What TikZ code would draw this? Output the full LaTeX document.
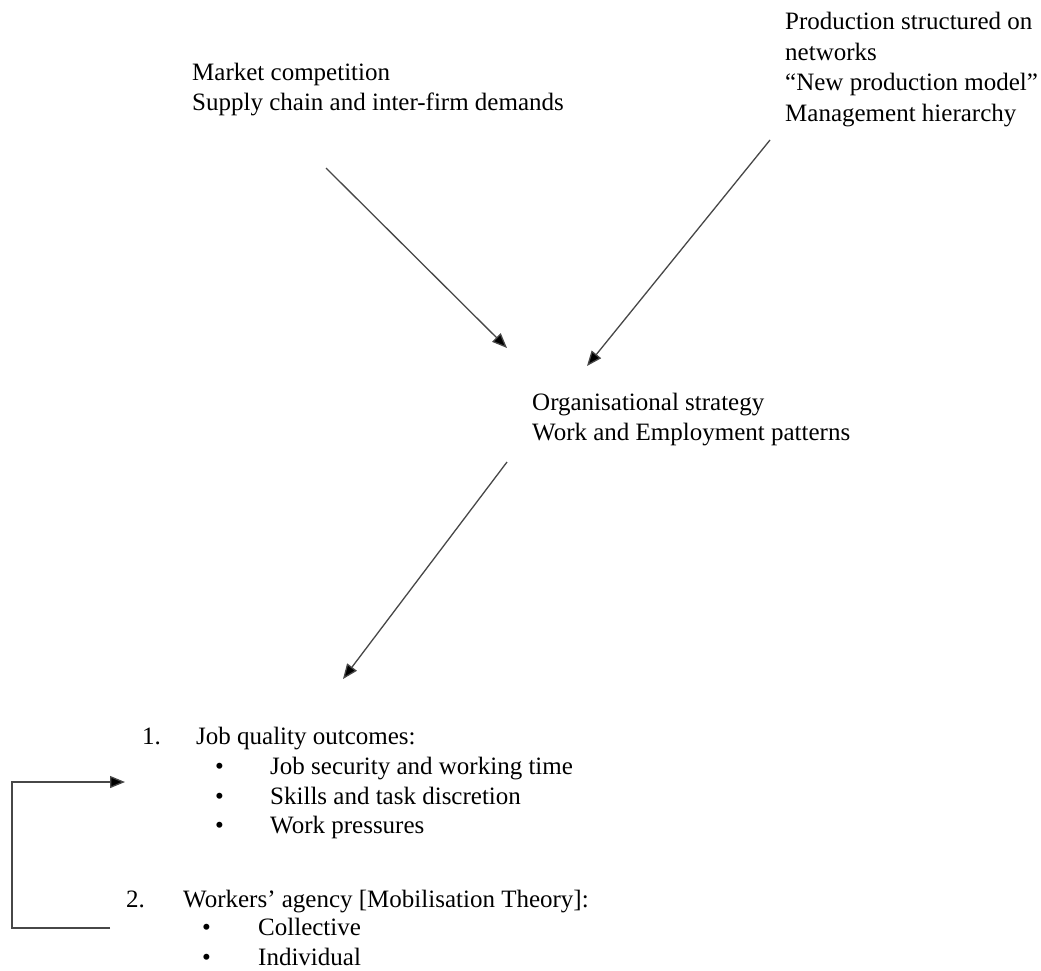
\documentclass[tikz,border=0pt]{standalone}
\usepackage{fontspec}
\setmainfont{Liberation Serif}
\usetikzlibrary{arrows.meta}
\begin{document}
\begin{tikzpicture}[x=1pt,y=-1pt,
  lbl/.style={anchor=north west, inner sep=0pt, align=left, font=\fontsize{25}{29.5}\selectfont},
  ln/.style={anchor=base west, inner sep=0pt, font=\fontsize{25}{29.5}\selectfont},
  conn/.style={draw=black!72, line width=1.3pt, -{Triangle[length=15pt,width=12pt,fill=black]}}]
\useasboundingbox[fill=white] (0,0) rectangle (1041,970);

\node[lbl] (market) at (192,63) {Market competition\\Supply chain and inter-firm demands};
\node[lbl, font=\fontsize{25}{30.5}\selectfont] (prod) at (785,12) {Production structured on\\networks\\“New production model”\\Management hierarchy};
\node[lbl] (org) at (532,393) {Organisational strategy\\Work and Employment patterns};

% list
\node[ln] (n1) at (142,744) {1.};
\node[ln] (jq) at (196,744) {Job quality outcomes:};
\node[ln] (b1) at (215,774) {•};
\node[ln] (t1) at (270,774) {Job security and working time};
\node[ln] (b2) at (215,804) {•};
\node[ln] (t2) at (270,804) {Skills and task discretion};
\node[ln] (b3) at (215,833) {•};
\node[ln] (t3) at (270,833) {Work pressures};
\node[ln] (n2) at (126,907) {2.};
\node[ln] (wa) at (183,907) {Workers’ agency [Mobilisation Theory]:};
\node[ln] (b4) at (202,935) {•};
\node[ln] (t4) at (258,935) {Collective};
\node[ln] (b5) at (202,965) {•};
\node[ln] (t5) at (258,965) {Individual};

% connector ends
\coordinate (a1s) at (326,168);
\coordinate (a1e) at (507,348);
\coordinate (a2s) at (770,140);
\coordinate (a2e) at (587,366);
\coordinate (a3s) at (507,462);
\coordinate (a3e) at (343,679);
\coordinate (fbA) at (110,928);
\coordinate (fbB) at (125,782);

\draw[conn] (a1s) -- (a1e);
\draw[conn] (a2s) -- (a2e);
\draw[conn] (a3s) -- (a3e);
\draw[conn] (fbA) -- ++(-98,0) |- (fbB);
\end{tikzpicture}
\end{document}
